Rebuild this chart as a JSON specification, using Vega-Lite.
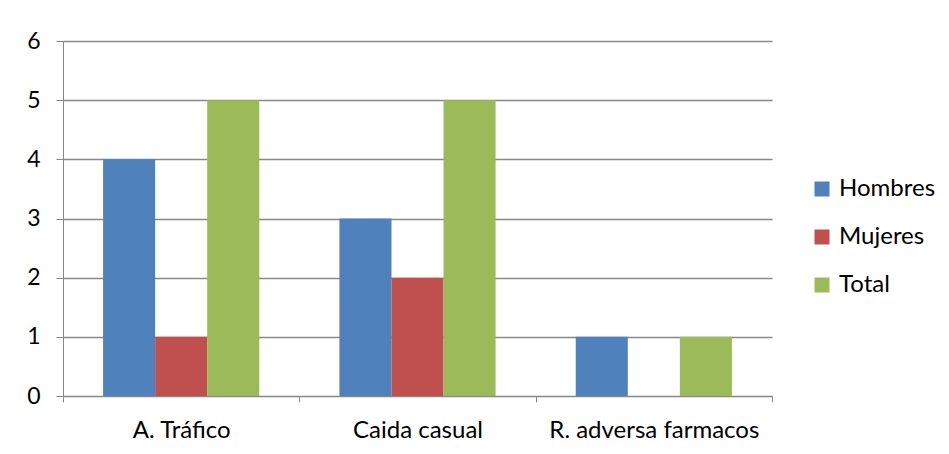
{
  "$schema": "https://vega.github.io/schema/vega-lite/v6.json",
  "autosize": {"type": "none"},
  "padding": {"left": 63, "top": 41, "right": 177, "bottom": 58},
  "width": 709,
  "height": 355,
  "background": "white",
  "data": {
    "values": [
      {"causa": "A. Tráfico", "grupo": "Hombres", "valor": 4},
      {"causa": "A. Tráfico", "grupo": "Mujeres", "valor": 1},
      {"causa": "A. Tráfico", "grupo": "Total", "valor": 5},
      {"causa": "Caida casual", "grupo": "Hombres", "valor": 3},
      {"causa": "Caida casual", "grupo": "Mujeres", "valor": 2},
      {"causa": "Caida casual", "grupo": "Total", "valor": 5},
      {"causa": "R. adversa farmacos", "grupo": "Hombres", "valor": 1},
      {"causa": "R. adversa farmacos", "grupo": "Mujeres", "valor": 0},
      {"causa": "R. adversa farmacos", "grupo": "Total", "valor": 1}
    ]
  },
  "mark": {"type": "bar"},
  "encoding": {
    "x": {
      "field": "causa",
      "type": "nominal",
      "sort": null,
      "scale": {"paddingInner": 0, "paddingOuter": 0},
      "axis": {
        "title": null,
        "labelAngle": 0,
        "labelLimit": 400,
        "labelOverlap": false,
        "tickBand": "extent",
        "domainColor": "#888888",
        "tickColor": "#888888",
        "tickSize": 6,
        "labelFont": "Lato",
        "labelFontSize": 24,
        "labelColor": "#000000",
        "labelPadding": 16
      }
    },
    "xOffset": {
      "field": "grupo",
      "type": "nominal",
      "scale": {"paddingInner": 0, "paddingOuter": 0.77}
    },
    "y": {
      "field": "valor",
      "type": "quantitative",
      "scale": {"domain": [0, 6], "nice": false},
      "axis": {
        "title": null,
        "values": [0, 1, 2, 3, 4, 5, 6],
        "grid": true,
        "gridColor": "#888888",
        "gridWidth": 1.5,
        "domainColor": "#888888",
        "tickColor": "#888888",
        "tickSize": 7,
        "labelFont": "Lato",
        "labelFontSize": 23,
        "labelColor": "#000000",
        "labelPadding": 16
      }
    },
    "color": {
      "field": "grupo",
      "type": "nominal",
      "scale": {
        "domain": ["Hombres", "Mujeres", "Total"],
        "range": ["#4F81BD", "#C0504D", "#9BBB59"]
      },
      "legend": {
        "title": null,
        "orient": "none",
        "legendX": 747,
        "legendY": 136,
        "symbolType": "square",
        "symbolSize": 225,
        "symbolStrokeWidth": 0,
        "labelFont": "Lato",
        "labelFontSize": 24,
        "labelColor": "#000000",
        "labelOffset": 5,
        "rowPadding": 24
      }
    }
  },
  "config": {
    "view": {"stroke": null}
  }
}
